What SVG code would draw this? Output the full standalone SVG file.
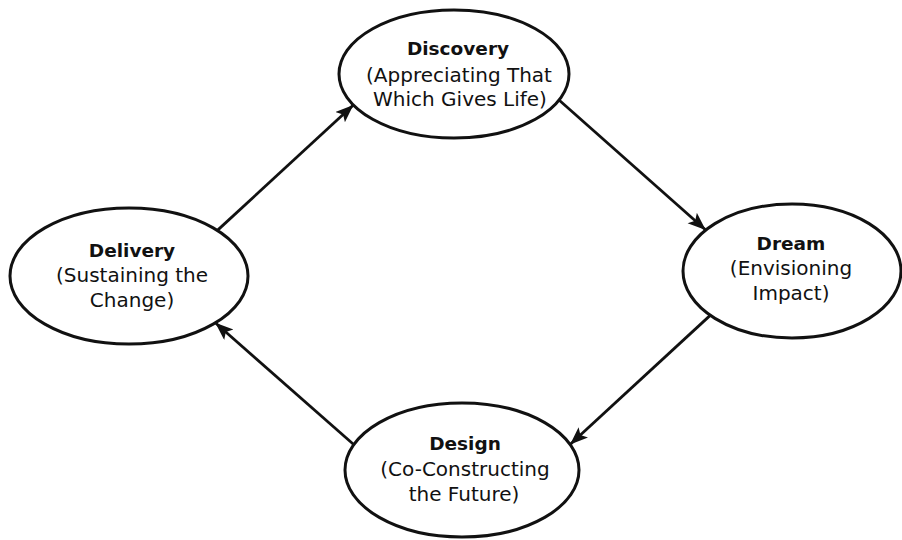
<svg xmlns="http://www.w3.org/2000/svg" width="902" height="540" viewBox="0 0 902 540">
<style>
.node ellipse{fill:#fff;stroke:#111;stroke-width:3}
.t{font-family:"DejaVu Sans","Liberation Sans",sans-serif;font-size:20px;fill:#111;text-anchor:middle}
.b{font-weight:bold;font-size:18.5px}
.conn line{stroke:#111;stroke-width:2.8;marker-end:url(#ah)}
</style>
<defs>
<marker id="ah" markerUnits="userSpaceOnUse" markerWidth="20" markerHeight="16" refX="18" refY="7" orient="auto">
<path d="M0,0 L18,7 L0,14 L4,7 z" fill="#111"/>
</marker>
</defs>
<rect width="902" height="540" fill="#fff"/>
<g id="connectors" class="conn">
<line x1="217.4" y1="230.4" x2="353.4" y2="105"/>
<line x1="559" y1="100" x2="705.7" y2="230"/>
<line x1="710.2" y1="315.4" x2="570.1" y2="444.5"/>
<line x1="353.7" y1="444.5" x2="215.3" y2="322.8"/>
</g>
<g id="discovery" class="node">
<ellipse cx="454" cy="74" rx="115" ry="64"/>
<text class="t b" x="458" y="55">Discovery</text>
<text class="t" x="459" y="82">(Appreciating That</text>
<text class="t" x="460" y="106">Which Gives Life)</text>
</g>
<g id="dream" class="node">
<ellipse cx="792" cy="271" rx="109" ry="67"/>
<text class="t b" x="791" y="250">Dream</text>
<text class="t" x="791" y="275">(Envisioning</text>
<text class="t" x="791" y="300">Impact)</text>
</g>
<g id="delivery" class="node">
<ellipse cx="129" cy="276" rx="119" ry="68"/>
<text class="t b" x="132" y="257">Delivery</text>
<text class="t" x="132" y="282">(Sustaining the</text>
<text class="t" x="132" y="307">Change)</text>
</g>
<g id="design" class="node">
<ellipse cx="462" cy="470" rx="117" ry="67"/>
<text class="t b" x="465" y="450">Design</text>
<text class="t" x="465" y="476">(Co-Constructing</text>
<text class="t" x="464" y="501">the Future)</text>
</g>
</svg>
